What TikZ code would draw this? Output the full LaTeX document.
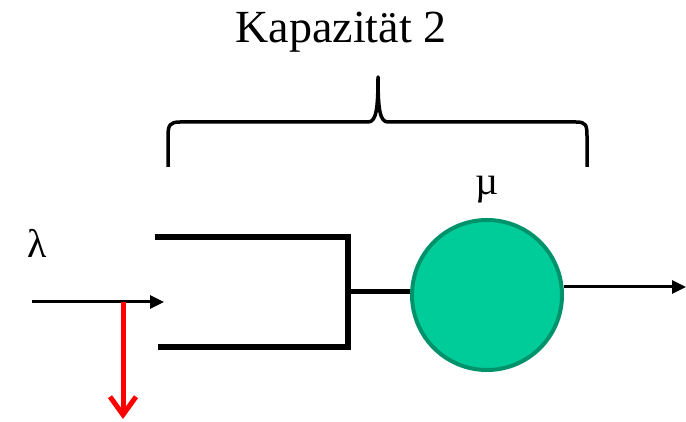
\documentclass[tikz,border=0pt]{standalone}
\usepackage{fontspec}
\setmainfont{Liberation Serif}
\usetikzlibrary{arrows.meta}
\definecolor{circfill}{HTML}{00CC99}
\definecolor{circdraw}{HTML}{00936B}
\tikzset{
  flow/.style={draw=black, line width=3pt, -{Triangle[length=14pt,width=13pt]}},
  drop/.style={draw=red, line width=5pt, -{Straight Barb[length=18pt,width=26pt,line width=5pt]}},
  queue/.style={draw=black, line width=6pt},
  lbl/.style={font=\fontsize{40}{44}\selectfont, inner sep=0pt},
}
\begin{document}
\begin{tikzpicture}[x=1pt,y=-1pt]
\useasboundingbox (0,0) rectangle (686,422);
% title
\node[font=\fontsize{46}{50}\selectfont, anchor=base, inner sep=0pt] (title) at (341,43) {Kapazität 2};
% brace
\draw[line width=3.5pt, line join=round] (168,167) -- (168,136) .. controls (168,125) and (170,122) .. (180,122)
  -- (368,122) .. controls (376,122) and (378,110) .. (378,77)
  .. controls (378,110) and (380,122) .. (388,122)
  -- (576,122) .. controls (586,122) and (587,125) .. (587,136) -- (587,167);
% labels
\node[lbl] (lambda) at (37,243) {λ};
\node[lbl] (mu) at (487,190) {µ};
% queue
\coordinate (qtl) at (155,237);
\coordinate (qtr) at (348,237);
\coordinate (qbl) at (158,347);
\coordinate (qbr) at (348,347);
\draw[queue] (qtl) -- (qtr);
\draw[queue] (qbl) -- (qbr);
\draw[queue, line cap=rect] (348,237) -- (348,347);
% server
\node[circle, minimum size=150pt, fill=circfill, draw=circdraw, line width=4pt, inner sep=0pt] (server) at (487,295) {};
\coordinate (qout) at (348,292);
\draw[line width=5pt] (qout) -- (server.west |- qout);
% input arrow
\coordinate (in) at (32,302);
\coordinate (inend) at (164,302);
\draw[flow] (in) -- (inend);
% red drop arrow
\coordinate (dropstart) at (123,302);
\coordinate (dropend) at (123,419);
\draw[drop] (dropstart) -- (dropend);
% output arrow
\coordinate (out) at (686,287);
\draw[flow] (server.east |- out) -- (out);
\end{tikzpicture}
\end{document}
